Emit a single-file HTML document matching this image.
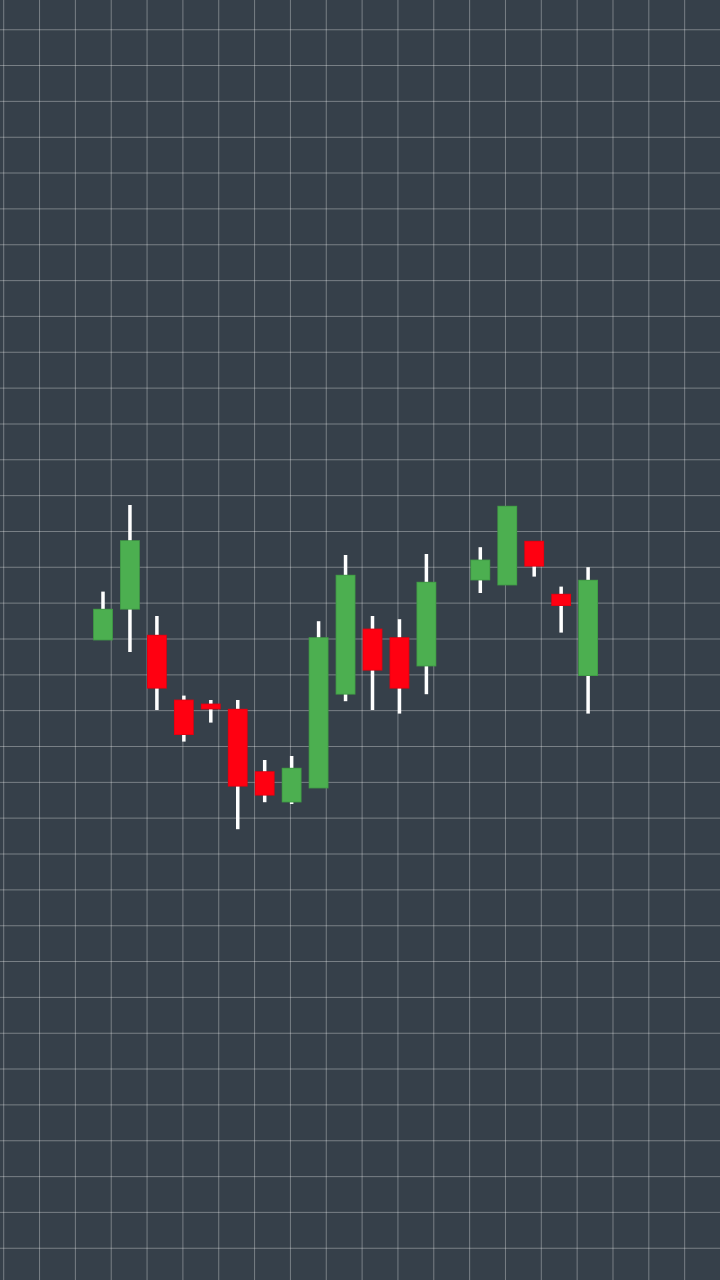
<!DOCTYPE html>
<html><head><meta charset="utf-8"><style>
html,body{margin:0;padding:0;background:#36404a;}
svg{display:block;}
</style></head><body>
<svg id="chart" width="720" height="1280" viewBox="0 0 720 1280" xmlns="http://www.w3.org/2000/svg">
<rect x="0" y="0" width="720" height="1280" fill="#36404a"/>
<g id="grid"></g>
<g id="candles"></g>
</svg>
<script>
const categories = [1,2,3,4,5,6,7,8,9,10,11,12,13,14,15,16,17,18,19];
const opens  = [130,145.4,132.4,100,98,95.4,64.2,49,56,102.9,135.5,131.2,117,null,160,157.5,179.4,152.9,112.2];
const highs  = [154.2,197.5,142,102.2,100,100,70,72,139.4,172.5,142,140.4,173,null,176.4,196.9,179.4,156.7,166.4];
const lows   = [130,124,95,79.2,88.7,35.4,48.9,48,56,99.4,95,93.2,102.9,null,153.5,157.5,161.7,133.7,93.2];
const closes = [145.4,179.7,105.9,82.7,95.5,56.9,52.4,65.9,131.2,162.4,114.9,105.9,158.9,null,170,196.9,166.9,147.2,159.9];

const NS = 'http://www.w3.org/2000/svg';
function yScale(v){ return 900 - 2*v; }
function xScale(i){ return 103 + i*26.95; }

const grid = document.getElementById('grid');
for (let k=0;k<21;k++){
  const l=document.createElementNS(NS,'line');
  const x=3.7+35.84*k;
  l.setAttribute('x1',x);l.setAttribute('x2',x);l.setAttribute('y1',0);l.setAttribute('y2',1280);
  l.setAttribute('stroke','rgba(255,255,255,0.33)');l.setAttribute('stroke-width','1');
  
  
  grid.appendChild(l);
}
for (let k=0;k<36;k++){
  const l=document.createElementNS(NS,'line');
  const y=29.7+35.84*k;
  l.setAttribute('x1',0);l.setAttribute('x2',720);l.setAttribute('y1',y);l.setAttribute('y2',y);
  l.setAttribute('stroke','rgba(255,255,255,0.33)');l.setAttribute('stroke-width','1');
  
  
  grid.appendChild(l);
}

const cg = document.getElementById('candles');
categories.forEach((c,i)=>{
  if (opens[i]===null) return;
  const x=xScale(i);
  const up=closes[i]>=opens[i];
  const g=document.createElementNS(NS,'g');
  
  
  const w=document.createElementNS(NS,'rect');
  w.setAttribute('x',x-1.75);w.setAttribute('width',3.5);
  w.setAttribute('y',yScale(highs[i]));w.setAttribute('height',Math.max(0,yScale(lows[i])-yScale(highs[i])));
  w.setAttribute('fill','#ffffff');
  
  
  g.appendChild(w);
  const top=yScale(Math.max(opens[i],closes[i]));
  const bot=yScale(Math.min(opens[i],closes[i]));
  const b=document.createElementNS(NS,'rect');
  b.setAttribute('x',x-9.5);b.setAttribute('width',19);
  b.setAttribute('y',top);b.setAttribute('height',Math.max(1,bot-top));
  b.setAttribute('fill',up?'#4caf50':'#ff0011');
  b.setAttribute('stroke',up?'#3f9a44':'#e0000f');b.setAttribute('stroke-width','0.8');
  
  
  g.appendChild(b);
  cg.appendChild(g);
});
</script>
</body></html>
